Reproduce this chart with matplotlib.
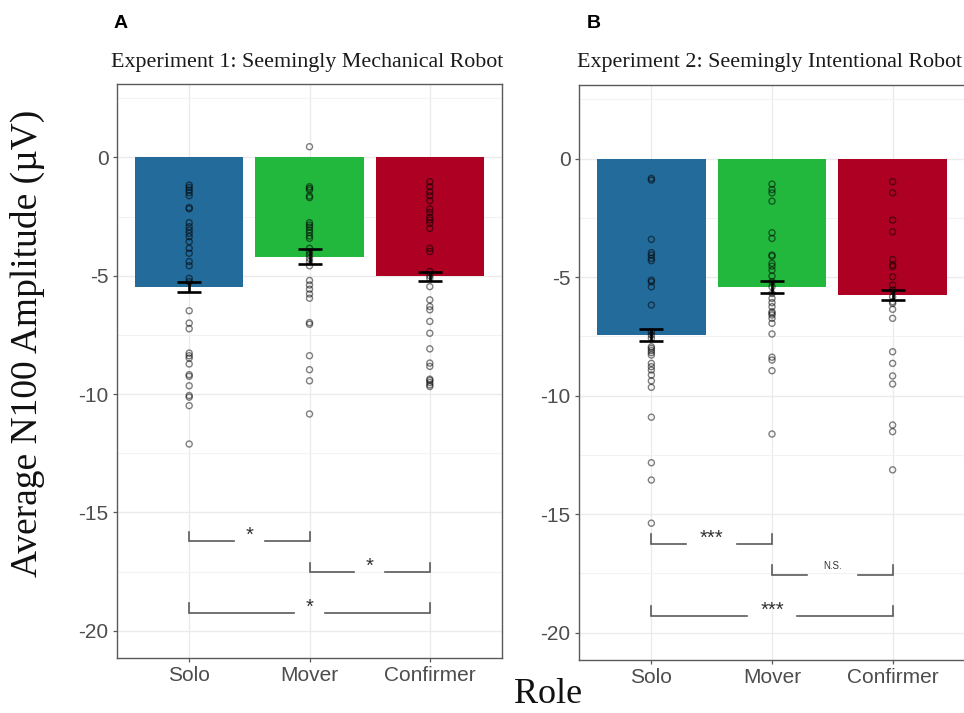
import numpy as np
import matplotlib
matplotlib.use("Agg")
import matplotlib.pyplot as plt

# ============== #
# Chart data     #
# ============== #
roles = ["Solo", "Mover", "Confirmer"]
bar_colors = ["#236B9A", "#22B83E", "#AD0022"]
sig_pairs = [(0, 1), (1, 2), (0, 2)]

# Experiment 1 (panel A)
exp1_title = "Experiment 1: Seemingly Mechanical Robot"
exp1_means = [-5.47, -4.20, -5.03]
exp1_se = [0.21, 0.31, 0.20]
exp1_solo = [-1.17, -1.27, -1.38, -1.49, -1.62, -2.12, -2.17, -2.76, -2.93,
             -3.07, -3.21, -3.35, -3.56, -3.84, -4.05, -4.40, -4.58, -5.11,
             -5.25, -6.48, -7.00, -7.24, -8.27, -8.38, -8.48, -8.73, -9.18,
             -9.25, -9.65, -10.06, -10.13, -10.49, -12.11]
exp1_mover = [0.45, -1.24, -1.31, -1.38, -1.63, -1.70, -2.76, -2.86, -2.95,
              -3.07, -3.18, -3.32, -3.42, -3.84, -3.98, -4.12, -4.26, -4.40,
              -4.58, -5.20, -5.39, -5.57, -5.77, -5.95, -6.98, -7.05, -8.38,
              -8.97, -9.44, -10.84]
exp1_confirmer = [-1.03, -1.24, -1.45, -1.62, -1.83, -2.18, -2.33, -2.53,
                  -2.64, -2.78, -3.00, -3.84, -3.98, -4.82, -5.00, -5.11,
                  -5.46, -6.02, -6.30, -6.44, -6.93, -7.43, -8.09, -8.69,
                  -8.83, -9.37, -9.42, -9.51, -9.61, -9.68]
exp1_sig_y = [-16.22, -17.53, -19.24]
exp1_sig_labels = ["*", "*", "*"]

# Experiment 2 (panel B)
exp2_title = "Experiment 2: Seemingly Intentional Robot"
exp2_means = [-7.44, -5.42, -5.77]
exp2_se = [0.24, 0.25, 0.21]
exp2_solo = [-0.84, -0.91, -3.41, -3.97, -4.07, -4.21, -4.31, -5.13, -5.20,
             -5.41, -6.18, -7.30, -7.44, -7.58, -7.94, -8.01, -8.10, -8.19,
             -8.29, -8.64, -8.78, -8.92, -9.13, -9.38, -9.65, -10.91, -12.83,
             -13.56, -15.38]
exp2_mover = [-1.08, -1.31, -1.45, -1.80, -3.13, -3.37, -4.07, -4.12, -4.42,
              -4.54, -4.71, -4.96, -5.20, -5.41, -5.69, -5.90, -6.08, -6.25,
              -6.46, -6.53, -6.60, -6.74, -6.95, -7.40, -8.38, -8.50, -8.95,
              -11.62]
exp2_confirmer = [-0.98, -1.45, -2.60, -3.09, -4.26, -4.49, -4.56, -4.99,
                  -5.34, -5.55, -5.83, -6.04, -6.11, -6.36, -6.74, -8.15,
                  -8.64, -9.17, -9.51, -11.24, -11.52, -13.13]
exp2_sig_y = [-16.25, -17.56, -19.29]
exp2_sig_labels = ["***", "N.S.", "***"]

y_ticks = [0, -5, -10, -15, -20]

SANS = ["Liberation Sans", "DejaVu Sans"]
SERIF = ["Liberation Serif", "DejaVu Serif"]
FRAME = "#5a5a5a"


def draw_panel(ax, means, se, points, sig_y, sig_labels):
    x = np.arange(1, len(roles) + 1)
    ax.bar(x, means, width=0.9, color=bar_colors, zorder=2)

    # individual participants
    for xi, pts in zip(x, points):
        ax.scatter(np.full(len(pts), xi), pts, s=19, facecolors="none",
                   edgecolors=(0, 0, 0, 0.5), linewidths=1.0, zorder=3)

    ax.errorbar(x, means, yerr=se, fmt="none", ecolor="black",
                elinewidth=1.9, capsize=8.4, capthick=1.9, zorder=4)

    # significance brackets
    for (i, j), yb, lab in zip(sig_pairs, sig_y, sig_labels):
        x0, x1 = x[i], x[j]
        xm = (x0 + x1) / 2
        gap = 0.13 if lab == "*" else 0.21
        ax.plot([x0, x0, xm - gap], [yb + 0.4, yb, yb], color=FRAME,
                lw=1.2, zorder=3, solid_joinstyle="miter")
        ax.plot([xm + gap, x1, x1], [yb, yb, yb + 0.4], color=FRAME,
                lw=1.2, zorder=3, solid_joinstyle="miter")
        if lab == "N.S.":
            ax.text(xm, yb + 0.25, lab, ha="center", va="baseline",
                    fontsize=7, color="#333333", family=SANS)
        else:
            ax.text(xm, yb, lab, ha="center", va="baseline",
                    fontsize=14.5, color="#333333", family=SANS)

    ax.set_xlim(0.4, 3.6)
    ax.set_ylim(-21.15, 3.1)
    ax.set_xticks(x)
    ax.set_xticklabels(roles)
    ax.set_yticks(y_ticks)
    ax.set_yticklabels([str(t) for t in y_ticks])
    ax.set_yticks(np.arange(2.5, -22, -5), minor=True)
    ax.tick_params(axis="y", which="minor", length=0)
    ax.grid(True, which="major", color="#EBEBEB", lw=1.0, zorder=0)
    ax.grid(True, which="minor", axis="y", color="#F2F2F2", lw=0.8, zorder=0)
    ax.set_axisbelow(True)
    ax.tick_params(axis="both", which="major", length=3, width=0.9,
                   color=FRAME, labelsize=15, labelcolor="#4D4D4D", pad=3)
    for lbl in ax.get_xticklabels() + ax.get_yticklabels():
        lbl.set_family(SANS)
    for sp in ax.spines.values():
        sp.set_color(FRAME)
        sp.set_linewidth(1.0)


if __name__ == "__main__":
    fig = plt.figure(figsize=(9.64, 7.13), dpi=100)

    ax1 = fig.add_axes([117 / 964, 1 - 658 / 713, 385 / 964, 574 / 713])
    draw_panel(ax1, exp1_means, exp1_se,
               [exp1_solo, exp1_mover, exp1_confirmer],
               exp1_sig_y, exp1_sig_labels)

    ax2 = fig.add_axes([579 / 964, 1 - 660 / 713, 386 / 964, 575 / 713])
    draw_panel(ax2, exp2_means, exp2_se,
               [exp2_solo, exp2_mover, exp2_confirmer],
               exp2_sig_y, exp2_sig_labels)

    # titles and panel letters
    fig.text(111 / 964, 1 - 62 / 713, exp1_title, ha="left", va="center",
             fontsize=15.8, family=SERIF, color="#1a1a1a")
    fig.text(577 / 964, 1 - 62 / 713, exp2_title, ha="left", va="center",
             fontsize=15.8, family=SERIF, color="#1a1a1a")
    fig.text(114 / 964, 1 - 23 / 713, "A", ha="left", va="center",
             fontsize=14, fontweight="bold", family=SANS)
    fig.text(587 / 964, 1 - 23 / 713, "B", ha="left", va="center",
             fontsize=14, fontweight="bold", family=SANS)

    # shared axis labels
    fig.text(27 / 964, 1 - 343 / 713, "Average N100 Amplitude (µV)",
             rotation=90, ha="center", va="center", fontsize=27,
             family=SERIF, color="#111111")
    fig.text(548 / 964, 2 / 713, "Role", ha="center", va="bottom",
             fontsize=26, family=SERIF, color="#111111")

    fig.savefig("out.png", dpi=100)
